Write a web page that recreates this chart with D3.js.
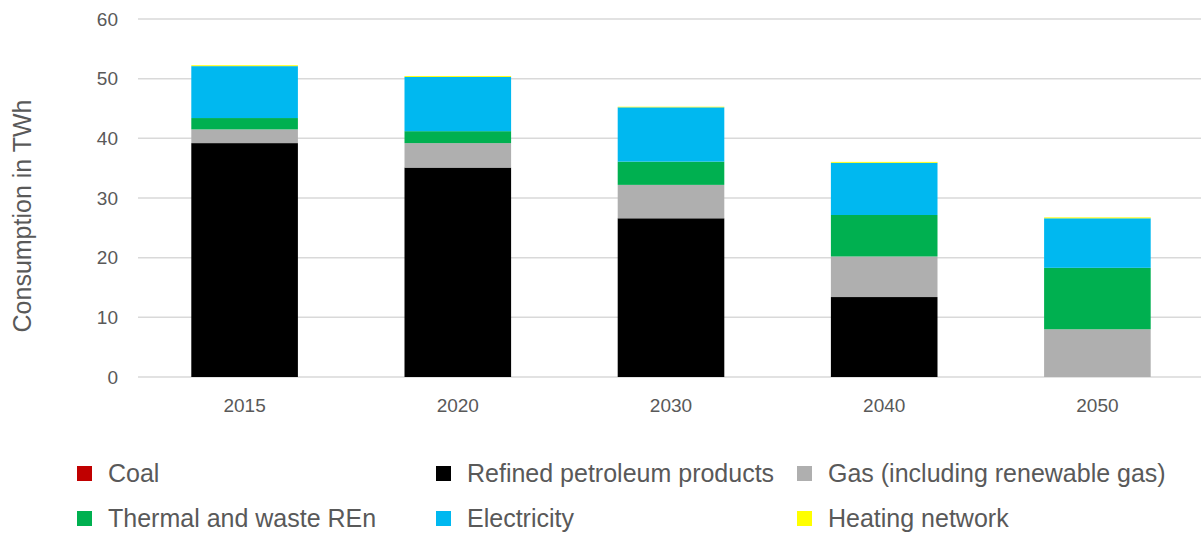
<!DOCTYPE html>
<html>
<head>
<meta charset="utf-8">
<script src="https://cdn.jsdelivr.net/npm/d3@7"></script>
<style>
  html, body { margin: 0; padding: 0; background: #fff; }
  svg { display: block; }
  text { font-family: "Liberation Sans", Arial, sans-serif; fill: #595959; }
</style>
</head>
<body>
<svg id="chart" width="1201" height="533"></svg>
<script>
// ---- data ----
const years = ["2015", "2020", "2030", "2040", "2050"];
const coal = [0, 0, 0, 0, 0];
const petroleum = [39.2, 35.1, 26.6, 13.4, 0];
const gas = [2.3, 4.1, 5.6, 6.8, 8.0];
const thermal = [1.9, 2.0, 3.9, 6.95, 10.3];
const electricity = [8.7, 9.1, 9.1, 8.75, 8.3];
const heating = [0.15, 0.15, 0.1, 0.15, 0.15];
const seriesNames = ["Coal", "Refined petroleum products", "Gas (including renewable gas)",
                     "Thermal and waste REn", "Electricity", "Heating network"];
const yTicks = [0, 10, 20, 30, 40, 50, 60];
const yTitle = "Consumption in TWh";

const seriesValues = [coal, petroleum, gas, thermal, electricity, heating];
const colors = ["#C00000", "#000000", "#AFAFAF", "#00B050", "#00B8F0", "#FFFF00"];

const rows = years.map((y, i) => {
  const r = { year: y };
  seriesNames.forEach((s, k) => r[s] = seriesValues[k][i]);
  return r;
});

const svg = d3.select("#chart");
const x = d3.scaleBand().domain(years).range([138, 1204]).paddingInner(0.5).paddingOuter(0.25);
const y = d3.scaleLinear().domain([0, 60]).range([377, 19]);

// gridlines
svg.append("g").selectAll("line").data(yTicks).join("line")
  .attr("x1", 138).attr("x2", 1201)
  .attr("y1", d => y(d)).attr("y2", d => y(d))
  .attr("stroke", "#d9d9d9").attr("stroke-width", 1.5);

// y tick labels
const yAxis = d3.axisLeft(y).tickValues(yTicks).tickSize(0).tickPadding(0);
const gy = svg.append("g").attr("transform", "translate(118,0)").call(yAxis);
gy.select(".domain").remove();
gy.selectAll("text").attr("font-size", 19).attr("fill", "#595959")
  .attr("font-family", "Liberation Sans, Arial, sans-serif");

// x tick labels
const xAxis = d3.axisBottom(x).tickSize(0).tickPadding(0);
const gx = svg.append("g").attr("transform", "translate(0,398)").call(xAxis);
gx.select(".domain").remove();
gx.selectAll("text").attr("font-size", 19).attr("fill", "#595959")
  .attr("font-family", "Liberation Sans, Arial, sans-serif").attr("dy", "0.71em");

// stacked bars
const stack = d3.stack().keys(seriesNames)(rows);
svg.append("g").selectAll("g").data(stack).join("g")
  .attr("fill", (d, i) => colors[i])
  .selectAll("rect").data(d => d).join("rect")
  .attr("x", d => x(d.data.year))
  .attr("width", x.bandwidth())
  .attr("y", d => y(d[1]))
  .attr("height", d => Math.max(0, y(d[0]) - y(d[1])));

// y title
svg.append("text")
  .attr("transform", "translate(31,216) rotate(-90)")
  .attr("text-anchor", "middle")
  .attr("font-size", 25)
  .text(yTitle);

// legend
const colX = [77, 436, 797];
const rowY = [466, 511];
const leg = svg.append("g").selectAll("g").data(seriesNames).join("g")
  .attr("transform", (d, i) => `translate(${colX[i % 3]},${rowY[Math.floor(i / 3)]})`);
leg.append("rect").attr("width", 15).attr("height", 15).attr("fill", (d, i) => colors[i]);
leg.append("text").attr("x", 31).attr("y", 16).attr("font-size", 25).text(d => d);
</script>
</body>
</html>
